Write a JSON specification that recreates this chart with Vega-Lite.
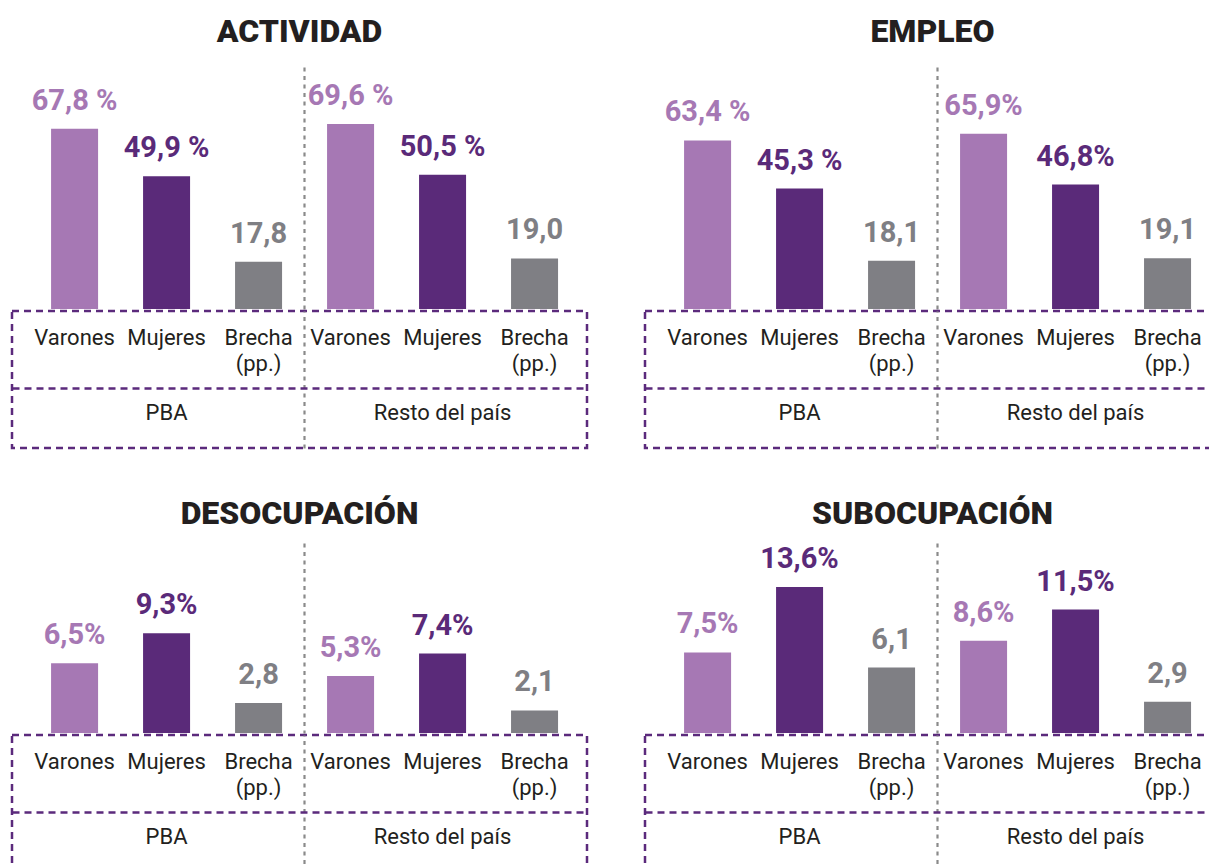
{
  "$schema": "https://vega.github.io/schema/vega-lite/v6.json",
  "padding": {"left": 10, "top": 16, "right": 0, "bottom": 0},
  "background": "white",
  "config": {"font": "Roboto", "view": {"stroke": null}},
  "datasets": {
    "d": [
      {"panel": "ACTIVIDAD", "region": "PBA", "cat": "Varones", "value": 67.8, "label": "67,8 %"},
      {"panel": "ACTIVIDAD", "region": "PBA", "cat": "Mujeres", "value": 49.9, "label": "49,9 %"},
      {"panel": "ACTIVIDAD", "region": "PBA", "cat": "Brecha (pp.)", "value": 17.8, "label": "17,8"},
      {"panel": "ACTIVIDAD", "region": "Resto del país", "cat": "Varones", "value": 69.6, "label": "69,6 %"},
      {"panel": "ACTIVIDAD", "region": "Resto del país", "cat": "Mujeres", "value": 50.5, "label": "50,5 %"},
      {"panel": "ACTIVIDAD", "region": "Resto del país", "cat": "Brecha (pp.)", "value": 19.0, "label": "19,0"},
      {"panel": "EMPLEO", "region": "PBA", "cat": "Varones", "value": 63.4, "label": "63,4 %"},
      {"panel": "EMPLEO", "region": "PBA", "cat": "Mujeres", "value": 45.3, "label": "45,3 %"},
      {"panel": "EMPLEO", "region": "PBA", "cat": "Brecha (pp.)", "value": 18.1, "label": "18,1"},
      {"panel": "EMPLEO", "region": "Resto del país", "cat": "Varones", "value": 65.9, "label": "65,9%"},
      {"panel": "EMPLEO", "region": "Resto del país", "cat": "Mujeres", "value": 46.8, "label": "46,8%"},
      {"panel": "EMPLEO", "region": "Resto del país", "cat": "Brecha (pp.)", "value": 19.1, "label": "19,1"},
      {"panel": "DESOCUPACIÓN", "region": "PBA", "cat": "Varones", "value": 6.5, "label": "6,5%"},
      {"panel": "DESOCUPACIÓN", "region": "PBA", "cat": "Mujeres", "value": 9.3, "label": "9,3%"},
      {"panel": "DESOCUPACIÓN", "region": "PBA", "cat": "Brecha (pp.)", "value": 2.8, "label": "2,8"},
      {"panel": "DESOCUPACIÓN", "region": "Resto del país", "cat": "Varones", "value": 5.3, "label": "5,3%"},
      {"panel": "DESOCUPACIÓN", "region": "Resto del país", "cat": "Mujeres", "value": 7.4, "label": "7,4%"},
      {"panel": "DESOCUPACIÓN", "region": "Resto del país", "cat": "Brecha (pp.)", "value": 2.1, "label": "2,1"},
      {"panel": "SUBOCUPACIÓN", "region": "PBA", "cat": "Varones", "value": 7.5, "label": "7,5%"},
      {"panel": "SUBOCUPACIÓN", "region": "PBA", "cat": "Mujeres", "value": 13.6, "label": "13,6%"},
      {"panel": "SUBOCUPACIÓN", "region": "PBA", "cat": "Brecha (pp.)", "value": 6.1, "label": "6,1"},
      {"panel": "SUBOCUPACIÓN", "region": "Resto del país", "cat": "Varones", "value": 8.6, "label": "8,6%"},
      {"panel": "SUBOCUPACIÓN", "region": "Resto del país", "cat": "Mujeres", "value": 11.5, "label": "11,5%"},
      {"panel": "SUBOCUPACIÓN", "region": "Resto del país", "cat": "Brecha (pp.)", "value": 2.9, "label": "2,9"}
    ]
  },
  "data": {"name": "d"},
  "spacing": 48,
  "resolve": {"scale": {"y": "independent", "x": "independent", "xOffset": "independent", "color": "independent"}},
  "vconcat": [
    {
      "spacing": 54,
      "resolve": {"scale": {"y": "independent", "x": "independent", "xOffset": "independent", "color": "independent"}},
      "hconcat": [
        {
          "transform": [{"filter": "datum.panel === 'ACTIVIDAD'"}],
          "spacing": 0,
          "resolve": {"scale": {"y": "independent", "x": "independent", "xOffset": "independent", "color": "independent"}},
          "vconcat": [
            {
              "title": {"text": "ACTIVIDAD", "fontSize": 32, "fontWeight": 900, "font": "Roboto", "color": "#231f20", "anchor": "middle", "offset": 18},
              "width": 575, "height": 242,
              "encoding": {
                "x": {"field": "region", "type": "nominal", "scale": {"type": "band", "domain": ["PBA", "Resto del país"], "paddingInner": 0, "paddingOuter": 0.0417, "align": 0.72},
                  "axis": {"values": ["Resto del país"], "bandPosition": 0, "grid": true, "gridColor": "#8a8a8a", "gridDash": [4, 4.5], "gridWidth": 2.2, "labels": false, "ticks": false, "domain": false, "title": null}},
                "xOffset": {"field": "cat", "type": "nominal", "scale": {"type": "band", "domain": ["Varones", "Mujeres", "Brecha (pp.)"], "paddingInner": 0.489, "paddingOuter": 0.2446}},
                "y": {"field": "value", "type": "quantitative", "scale": {"domain": [0, 91], "nice": false}, "axis": null},
                "color": {"field": "cat", "type": "nominal", "scale": {"domain": ["Varones", "Mujeres", "Brecha (pp.)"], "range": ["#a678b4", "#5a2a79", "#7f7f84"]}, "legend": null}
              },
              "layer": [
                {"mark": {"type": "bar"}},
                {"mark": {"type": "text", "baseline": "alphabetic", "dy": -19, "fontSize": 29, "fontWeight": "bold"}, "encoding": {"text": {"field": "label"}}}
              ]
            },
            {
              "width": 575, "height": 137,
              "view": {"stroke": "#5b2a7c", "strokeDash": [7, 5], "strokeWidth": 2.5},
              "encoding": {
                "x": {"field": "region", "type": "nominal", "scale": {"type": "band", "domain": ["PBA", "Resto del país"], "paddingInner": 0, "paddingOuter": 0.0417, "align": 0.72},
                  "axis": {"values": ["Resto del país"], "bandPosition": 0, "grid": true, "gridColor": "#8a8a8a", "gridDash": [4, 4.5], "gridWidth": 2.2, "labels": false, "ticks": false, "domain": false, "title": null}}
              },
              "layer": [
                {
                  "mark": {"type": "text", "baseline": "top", "fontSize": 22, "lineBreak": " ", "lineHeight": 26, "fill": "#231f20"},
                  "encoding": {
                    "xOffset": {"field": "cat", "type": "nominal", "scale": {"type": "band", "domain": ["Varones", "Mujeres", "Brecha (pp.)"], "paddingInner": 0.489, "paddingOuter": 0.2446}},
                    "y": {"datum": "Categoría", "type": "nominal", "bandPosition": 0, "scale": {"type": "band", "domain": ["Categoría", "Región"], "paddingInner": 0, "paddingOuter": 0.1417, "align": 1},
                      "axis": {"values": ["Región"], "bandPosition": 0, "grid": true, "gridColor": "#5b2a7c", "gridDash": [7, 5], "gridWidth": 2.5, "labels": false, "ticks": false, "domain": false, "title": null}},
                    "text": {"field": "cat"}
                  }
                },
                {
                  "transform": [{"filter": "datum.cat === 'Mujeres'"}],
                  "mark": {"type": "text", "baseline": "middle", "dy": -5, "fontSize": 22, "fill": "#231f20"},
                  "encoding": {
                    "y": {"datum": "Región", "type": "nominal",
                      "axis": {"values": ["Región"], "bandPosition": 0, "grid": true, "gridColor": "#5b2a7c", "gridDash": [7, 5], "gridWidth": 2.5, "labels": false, "ticks": false, "domain": false, "title": null}},
                    "text": {"field": "region"}
                  }
                }
              ]
            }
          ]
        },
        {
          "transform": [{"filter": "datum.panel === 'EMPLEO'"}],
          "spacing": 0,
          "resolve": {"scale": {"y": "independent", "x": "independent", "xOffset": "independent", "color": "independent"}},
          "vconcat": [
            {
              "title": {"text": "EMPLEO", "fontSize": 32, "fontWeight": 900, "font": "Roboto", "color": "#231f20", "anchor": "middle", "offset": 18},
              "width": 575, "height": 242,
              "encoding": {
                "x": {"field": "region", "type": "nominal", "scale": {"type": "band", "domain": ["PBA", "Resto del país"], "paddingInner": 0, "paddingOuter": 0.0417, "align": 0.72},
                  "axis": {"values": ["Resto del país"], "bandPosition": 0, "grid": true, "gridColor": "#8a8a8a", "gridDash": [4, 4.5], "gridWidth": 2.2, "labels": false, "ticks": false, "domain": false, "title": null}},
                "xOffset": {"field": "cat", "type": "nominal", "scale": {"type": "band", "domain": ["Varones", "Mujeres", "Brecha (pp.)"], "paddingInner": 0.489, "paddingOuter": 0.2446}},
                "y": {"field": "value", "type": "quantitative", "scale": {"domain": [0, 91], "nice": false}, "axis": null},
                "color": {"field": "cat", "type": "nominal", "scale": {"domain": ["Varones", "Mujeres", "Brecha (pp.)"], "range": ["#a678b4", "#5a2a79", "#7f7f84"]}, "legend": null}
              },
              "layer": [
                {"mark": {"type": "bar"}},
                {"mark": {"type": "text", "baseline": "alphabetic", "dy": -19, "fontSize": 29, "fontWeight": "bold"}, "encoding": {"text": {"field": "label"}}}
              ]
            },
            {
              "width": 575, "height": 137,
              "view": {"stroke": "#5b2a7c", "strokeDash": [7, 5], "strokeWidth": 2.5},
              "encoding": {
                "x": {"field": "region", "type": "nominal", "scale": {"type": "band", "domain": ["PBA", "Resto del país"], "paddingInner": 0, "paddingOuter": 0.0417, "align": 0.72},
                  "axis": {"values": ["Resto del país"], "bandPosition": 0, "grid": true, "gridColor": "#8a8a8a", "gridDash": [4, 4.5], "gridWidth": 2.2, "labels": false, "ticks": false, "domain": false, "title": null}}
              },
              "layer": [
                {
                  "mark": {"type": "text", "baseline": "top", "fontSize": 22, "lineBreak": " ", "lineHeight": 26, "fill": "#231f20"},
                  "encoding": {
                    "xOffset": {"field": "cat", "type": "nominal", "scale": {"type": "band", "domain": ["Varones", "Mujeres", "Brecha (pp.)"], "paddingInner": 0.489, "paddingOuter": 0.2446}},
                    "y": {"datum": "Categoría", "type": "nominal", "bandPosition": 0, "scale": {"type": "band", "domain": ["Categoría", "Región"], "paddingInner": 0, "paddingOuter": 0.1417, "align": 1},
                      "axis": {"values": ["Región"], "bandPosition": 0, "grid": true, "gridColor": "#5b2a7c", "gridDash": [7, 5], "gridWidth": 2.5, "labels": false, "ticks": false, "domain": false, "title": null}},
                    "text": {"field": "cat"}
                  }
                },
                {
                  "transform": [{"filter": "datum.cat === 'Mujeres'"}],
                  "mark": {"type": "text", "baseline": "middle", "dy": -5, "fontSize": 22, "fill": "#231f20"},
                  "encoding": {
                    "y": {"datum": "Región", "type": "nominal",
                      "axis": {"values": ["Región"], "bandPosition": 0, "grid": true, "gridColor": "#5b2a7c", "gridDash": [7, 5], "gridWidth": 2.5, "labels": false, "ticks": false, "domain": false, "title": null}},
                    "text": {"field": "region"}
                  }
                }
              ]
            }
          ]
        }
      ]
    },
    {
      "spacing": 54,
      "resolve": {"scale": {"y": "independent", "x": "independent", "xOffset": "independent", "color": "independent"}},
      "hconcat": [
        {
          "transform": [{"filter": "datum.panel === 'DESOCUPACIÓN'"}],
          "spacing": 0,
          "resolve": {"scale": {"y": "independent", "x": "independent", "xOffset": "independent", "color": "independent"}},
          "vconcat": [
            {
              "title": {"text": "DESOCUPACIÓN", "fontSize": 32, "fontWeight": 900, "font": "Roboto", "color": "#231f20", "anchor": "middle", "offset": 12},
              "width": 575, "height": 190,
              "encoding": {
                "x": {"field": "region", "type": "nominal", "scale": {"type": "band", "domain": ["PBA", "Resto del país"], "paddingInner": 0, "paddingOuter": 0.0417, "align": 0.72},
                  "axis": {"values": ["Resto del país"], "bandPosition": 0, "grid": true, "gridColor": "#8a8a8a", "gridDash": [4, 4.5], "gridWidth": 2.2, "labels": false, "ticks": false, "domain": false, "title": null}},
                "xOffset": {"field": "cat", "type": "nominal", "scale": {"type": "band", "domain": ["Varones", "Mujeres", "Brecha (pp.)"], "paddingInner": 0.489, "paddingOuter": 0.2446}},
                "y": {"field": "value", "type": "quantitative", "scale": {"domain": [0, 17.7], "nice": false}, "axis": null},
                "color": {"field": "cat", "type": "nominal", "scale": {"domain": ["Varones", "Mujeres", "Brecha (pp.)"], "range": ["#a678b4", "#5a2a79", "#7f7f84"]}, "legend": null}
              },
              "layer": [
                {"mark": {"type": "bar"}},
                {"mark": {"type": "text", "baseline": "alphabetic", "dy": -19, "fontSize": 29, "fontWeight": "bold"}, "encoding": {"text": {"field": "label"}}}
              ]
            },
            {
              "width": 575, "height": 137,
              "view": {"stroke": "#5b2a7c", "strokeDash": [7, 5], "strokeWidth": 2.5},
              "encoding": {
                "x": {"field": "region", "type": "nominal", "scale": {"type": "band", "domain": ["PBA", "Resto del país"], "paddingInner": 0, "paddingOuter": 0.0417, "align": 0.72},
                  "axis": {"values": ["Resto del país"], "bandPosition": 0, "grid": true, "gridColor": "#8a8a8a", "gridDash": [4, 4.5], "gridWidth": 2.2, "labels": false, "ticks": false, "domain": false, "title": null}}
              },
              "layer": [
                {
                  "mark": {"type": "text", "baseline": "top", "fontSize": 22, "lineBreak": " ", "lineHeight": 26, "fill": "#231f20"},
                  "encoding": {
                    "xOffset": {"field": "cat", "type": "nominal", "scale": {"type": "band", "domain": ["Varones", "Mujeres", "Brecha (pp.)"], "paddingInner": 0.489, "paddingOuter": 0.2446}},
                    "y": {"datum": "Categoría", "type": "nominal", "bandPosition": 0, "scale": {"type": "band", "domain": ["Categoría", "Región"], "paddingInner": 0, "paddingOuter": 0.1417, "align": 1},
                      "axis": {"values": ["Región"], "bandPosition": 0, "grid": true, "gridColor": "#5b2a7c", "gridDash": [7, 5], "gridWidth": 2.5, "labels": false, "ticks": false, "domain": false, "title": null}},
                    "text": {"field": "cat"}
                  }
                },
                {
                  "transform": [{"filter": "datum.cat === 'Mujeres'"}],
                  "mark": {"type": "text", "baseline": "middle", "dy": -5, "fontSize": 22, "fill": "#231f20"},
                  "encoding": {
                    "y": {"datum": "Región", "type": "nominal",
                      "axis": {"values": ["Región"], "bandPosition": 0, "grid": true, "gridColor": "#5b2a7c", "gridDash": [7, 5], "gridWidth": 2.5, "labels": false, "ticks": false, "domain": false, "title": null}},
                    "text": {"field": "region"}
                  }
                }
              ]
            }
          ]
        },
        {
          "transform": [{"filter": "datum.panel === 'SUBOCUPACIÓN'"}],
          "spacing": 0,
          "resolve": {"scale": {"y": "independent", "x": "independent", "xOffset": "independent", "color": "independent"}},
          "vconcat": [
            {
              "title": {"text": "SUBOCUPACIÓN", "fontSize": 32, "fontWeight": 900, "font": "Roboto", "color": "#231f20", "anchor": "middle", "offset": 12},
              "width": 575, "height": 190,
              "encoding": {
                "x": {"field": "region", "type": "nominal", "scale": {"type": "band", "domain": ["PBA", "Resto del país"], "paddingInner": 0, "paddingOuter": 0.0417, "align": 0.72},
                  "axis": {"values": ["Resto del país"], "bandPosition": 0, "grid": true, "gridColor": "#8a8a8a", "gridDash": [4, 4.5], "gridWidth": 2.2, "labels": false, "ticks": false, "domain": false, "title": null}},
                "xOffset": {"field": "cat", "type": "nominal", "scale": {"type": "band", "domain": ["Varones", "Mujeres", "Brecha (pp.)"], "paddingInner": 0.489, "paddingOuter": 0.2446}},
                "y": {"field": "value", "type": "quantitative", "scale": {"domain": [0, 17.7], "nice": false}, "axis": null},
                "color": {"field": "cat", "type": "nominal", "scale": {"domain": ["Varones", "Mujeres", "Brecha (pp.)"], "range": ["#a678b4", "#5a2a79", "#7f7f84"]}, "legend": null}
              },
              "layer": [
                {"mark": {"type": "bar"}},
                {"mark": {"type": "text", "baseline": "alphabetic", "dy": -19, "fontSize": 29, "fontWeight": "bold"}, "encoding": {"text": {"field": "label"}}}
              ]
            },
            {
              "width": 575, "height": 137,
              "view": {"stroke": "#5b2a7c", "strokeDash": [7, 5], "strokeWidth": 2.5},
              "encoding": {
                "x": {"field": "region", "type": "nominal", "scale": {"type": "band", "domain": ["PBA", "Resto del país"], "paddingInner": 0, "paddingOuter": 0.0417, "align": 0.72},
                  "axis": {"values": ["Resto del país"], "bandPosition": 0, "grid": true, "gridColor": "#8a8a8a", "gridDash": [4, 4.5], "gridWidth": 2.2, "labels": false, "ticks": false, "domain": false, "title": null}}
              },
              "layer": [
                {
                  "mark": {"type": "text", "baseline": "top", "fontSize": 22, "lineBreak": " ", "lineHeight": 26, "fill": "#231f20"},
                  "encoding": {
                    "xOffset": {"field": "cat", "type": "nominal", "scale": {"type": "band", "domain": ["Varones", "Mujeres", "Brecha (pp.)"], "paddingInner": 0.489, "paddingOuter": 0.2446}},
                    "y": {"datum": "Categoría", "type": "nominal", "bandPosition": 0, "scale": {"type": "band", "domain": ["Categoría", "Región"], "paddingInner": 0, "paddingOuter": 0.1417, "align": 1},
                      "axis": {"values": ["Región"], "bandPosition": 0, "grid": true, "gridColor": "#5b2a7c", "gridDash": [7, 5], "gridWidth": 2.5, "labels": false, "ticks": false, "domain": false, "title": null}},
                    "text": {"field": "cat"}
                  }
                },
                {
                  "transform": [{"filter": "datum.cat === 'Mujeres'"}],
                  "mark": {"type": "text", "baseline": "middle", "dy": -5, "fontSize": 22, "fill": "#231f20"},
                  "encoding": {
                    "y": {"datum": "Región", "type": "nominal",
                      "axis": {"values": ["Región"], "bandPosition": 0, "grid": true, "gridColor": "#5b2a7c", "gridDash": [7, 5], "gridWidth": 2.5, "labels": false, "ticks": false, "domain": false, "title": null}},
                    "text": {"field": "region"}
                  }
                }
              ]
            }
          ]
        }
      ]
    }
  ]
}
